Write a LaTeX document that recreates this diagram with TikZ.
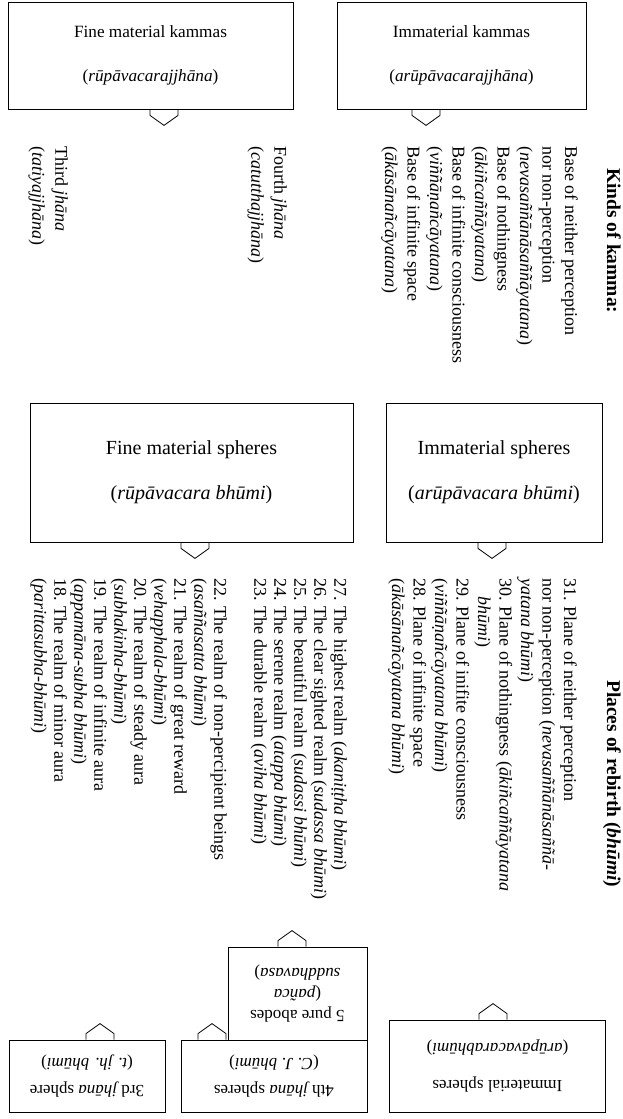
\documentclass[tikz,border=0pt]{standalone}
\usepackage{fontspec}
\setmainfont{Liberation Serif}
\newcommand\tabdown[1]{\draw[tab] (#1) ++(-14,0) -- ++(0,6) -- ++(14,10) -- ++(14,-10) -- ++(0,-6);}
\newcommand\tabup[1]{\draw[tab] (#1) ++(-14,0) -- ++(0,-6) -- ++(14,-10) -- ++(14,10) -- ++(0,6);}
\begin{document}
\begin{tikzpicture}
[x=1pt,y=-1pt,
every node/.style={inner sep=0pt},
box/.style={draw,line width=0.8pt,align=center},
toptext/.style={font=\fontsize{17.2}{20}\selectfont},
midtext/.style={font=\fontsize{20}{23}\selectfont},
bottext/.style={font=\fontsize{17}{21}\selectfont,rotate=180},
vlist/.style={rotate=-90,anchor=north west,align=left,font=\fontsize{18}{#1}\selectfont},
vlist/.default=20,
vhead/.style={rotate=-90,anchor=north west,font=\fontsize{19.5}{20}\selectfont\bfseries},
tab/.style={draw,line width=0.8pt}]
\useasboundingbox (0,0) rectangle (623,1119);

\node[box,toptext,minimum width=285,minimum height=107] (fmk) at (150.5,55.5) {Fine material kammas\\[24pt](\textit{rūpāvacarajjhāna})};
\node[box,toptext,minimum width=249,minimum height=107] (imk) at (461.5,55.5) {Immaterial kammas\\[24pt](\textit{arūpāvacarajjhāna})};
\tabdown{[xshift=13.5pt]fmk.south}
\tabdown{[xshift=-35.5pt]imk.south}

\node[vhead] (kk) at (621,168) {Kinds of kamma:};
\node[vlist=22.5] (kl) at (578,146) {Base of neither perception\\nor non-perception\\(\textit{nevasaññānāsaññāyatana})\\Base of nothingness\\(\textit{ākiñcaññāyatana})\\Base of infinite consciousness\\(\textit{viññāṇañcāyatana})\\Base of infinite space\\(\textit{ākāsānañcāyatana})};
\node[vlist=23] (fj) at (287,146) {Fourth \textit{jhāna}\\(\textit{catutthajjhāna})};
\node[vlist=23] (tj) at (68,146) {Third \textit{jhāna}\\(\textit{tatiyajjhāna})};

\node[box,midtext,minimum width=323,minimum height=139] (fms) at (191.5,472.5) {Fine material spheres\\[22pt](\textit{rūpāvacara bhūmi})};
\node[box,midtext,minimum width=216,minimum height=139] (ims) at (494,472.5) {Immaterial spheres\\[22pt](\textit{arūpāvacara bhūmi})};
\tabdown{[xshift=3.5pt]fms.south}
\tabdown{[xshift=-2pt]ims.south}

\node[vhead] (pr) at (621,680) {Places of rebirth (\textit{bhūmi})};
\node[vlist=21.5] (il) at (577,578) {31. Plane of neither perception\\nor non-perception (\textit{nevasaññānāsaññā-}\\\textit{yatana bhūmi})\\30. Plane of nothingness (\textit{ākiñcaññāyatana}\\\hspace*{1em}\textit{bhūmi})\\29. Plane of inifite consciousness\\(\textit{viññāṇañcāyatana bhūmi})\\28. Plane of infinite space\\(\textit{ākāsānañcāyatana bhūmi})};
\node[vlist] (fl) at (347,578) {27. The highest realm (\textit{akaniṭṭha bhūmi})\\26. The clear sighted realm (\textit{sudassa bhūmi})\\25. The beautiful realm (\textit{sudassi bhūmi})\\24. The serene realm (\textit{atappa bhūmi})\\23. The durable realm (\textit{aviha bhūmi})\\[20pt]22. The realm of non-percipient beings\\(\textit{asaññasatta bhūmi})\\21. The realm of great reward\\(\textit{vehapphala-bhūmi})\\20. The realm of steady aura\\(\textit{subhakinha-bhūmi})\\19. The realm of infinite aura\\(\textit{appamāna-subha bhūmi})\\18. The realm of minor aura\\(\textit{parittasubha-bhūmi})};

\node[box,bottext,minimum width=216,minimum height=92] (bis) at (497.5,1066) {Immaterial spheres\\[16pt](\textit{arūpāvacarabhūmi})};
\node[box,bottext,minimum width=139,minimum height=93] (bpa) at (297.5,993.5) {5 pure abodes\\(\textit{pañca}\\\textit{suddhavasa})};
\node[box,bottext,minimum width=186,minimum height=72] (bfj) at (274,1076) {4th \textit{jhāna} spheres\\[6pt](\textit{C. J. bhūmi})};
\node[box,bottext,minimum width=156,minimum height=72] (btj) at (87,1076) {3rd \textit{jhāna} sphere\\[6pt](\textit{t. jh. bhūmi})};
\tabup{[xshift=-4.5pt]bis.south}
\tabup{[xshift=-5.5pt]bpa.south}
\tabup{[xshift=-62pt]bfj.south}
\tabup{[xshift=13pt]btj.south}
\end{tikzpicture}
\end{document}
